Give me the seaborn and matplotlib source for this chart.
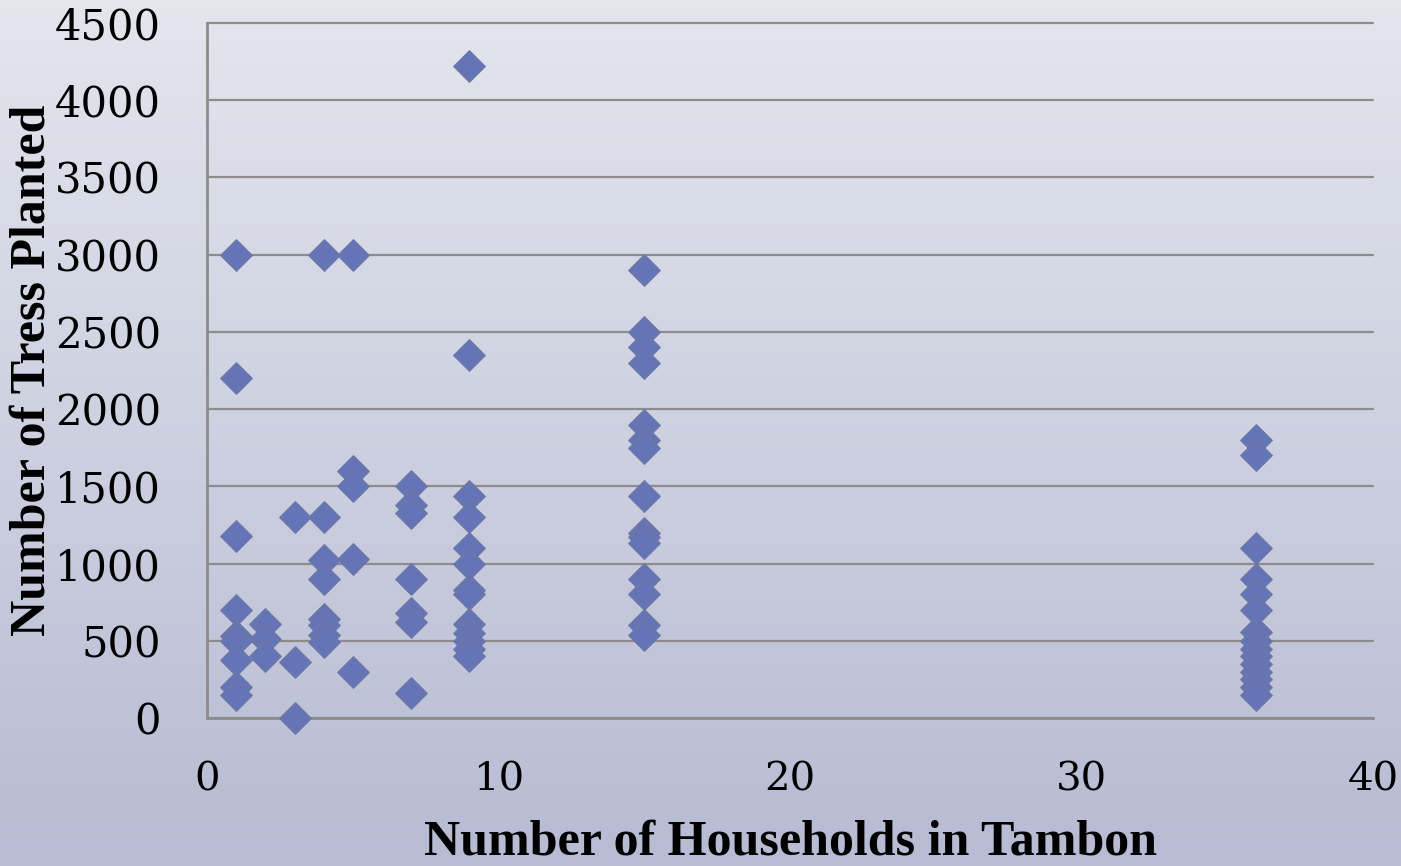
import numpy as np
import matplotlib
matplotlib.use("Agg")
import matplotlib.pyplot as plt
import seaborn as sns

# households in tambon (x) and trees planted (y), read column by column
households = ([1] * 9 + [2] * 3 + [3] * 3 + [4] * 8 + [5] * 5 + [7] * 7
              + [9] * 13 + [15] * 15 + [36] * 15)
trees = [
    3000, 2200, 1180, 700, 530, 500, 375, 200, 150,            # 1
    610, 510, 400,                                             # 2
    1300, 360, 0,                                              # 3
    3000, 1300, 1020, 900, 640, 600, 540, 490,                 # 4
    3000, 1600, 1500, 1030, 300,                               # 5
    1500, 1380, 1330, 900, 680, 620, 160,                      # 7
    4220, 2350, 1440, 1300, 1100, 1000, 830, 800, 610, 550, 500, 450, 400,   # 9
    2900, 2500, 2400, 2300, 1900, 1800, 1750, 1440, 1200, 1170, 1130,
    900, 800, 600, 540,                                        # 15
    1800, 1700, 1100, 900, 800, 700, 560, 500, 450, 400, 350, 300, 250,
    200, 150,                                                  # 36
]
x_ticks = [0, 10, 20, 30, 40]
y_ticks = list(range(0, 4501, 500))

sns.set_style("white")
plt.rcParams['font.family'] = ['DejaVu Serif']
plt.rcParams['text.color'] = 'black'
plt.rcParams['xtick.color'] = 'black'
plt.rcParams['ytick.color'] = 'black'
plt.rcParams['axes.labelcolor'] = 'black'

fig = plt.figure(figsize=(14.01, 8.66), dpi=100)

# slide background: soft grey-blue gradient
bg = fig.add_axes([0, 0, 1, 1], zorder=-10)
grad = np.linspace(0, 1, 256).reshape(-1, 1)
top = np.array([227, 230, 237]) / 255
bot = np.array([183, 187, 211]) / 255
img = top + (bot - top) * grad[..., None]
bg.imshow(img, aspect='auto', extent=[0, 1, 0, 1], origin='upper')
bg.axis('off')

ax = fig.add_axes([0.1478, 0.1709, 0.8322, 0.8025])
ax.patch.set_alpha(0)

sns.scatterplot(x=households, y=trees, ax=ax, marker='D', s=255,
                color='#6574b6', edgecolor='#6d77a6', linewidth=1,
                clip_on=False, zorder=5)

ax.set_xlim(0, 40)
ax.set_ylim(0, 4500)
ax.set_xticks(x_ticks)
ax.set_yticks(y_ticks)
ax.yaxis.grid(True, color='#8c8c8c', linewidth=1.6)
ax.xaxis.grid(False)
for gl in ax.get_ygridlines():
    gl.set_clip_on(False)
ax.set_axisbelow(True)

for side in ['top', 'right']:
    ax.spines[side].set_visible(False)
for side in ['left', 'bottom']:
    ax.spines[side].set_color('#8c8c8c')
    ax.spines[side].set_linewidth(2)

ax.tick_params(axis='y', length=0, pad=33, labelsize=30)
ax.tick_params(axis='x', length=0, pad=31, labelsize=29)

ax.set_xlabel('Number of Households in Tambon', fontsize=36,
              fontweight='bold', family='Liberation Serif')
ax.set_ylabel('Number of Tress Planted', fontsize=36,
              fontweight='bold', family='Liberation Serif')
ax.xaxis.set_label_coords(0.5, -0.146)
ax.yaxis.set_label_coords(-0.130, 0.5)

fig.savefig('out.png', dpi=100)
